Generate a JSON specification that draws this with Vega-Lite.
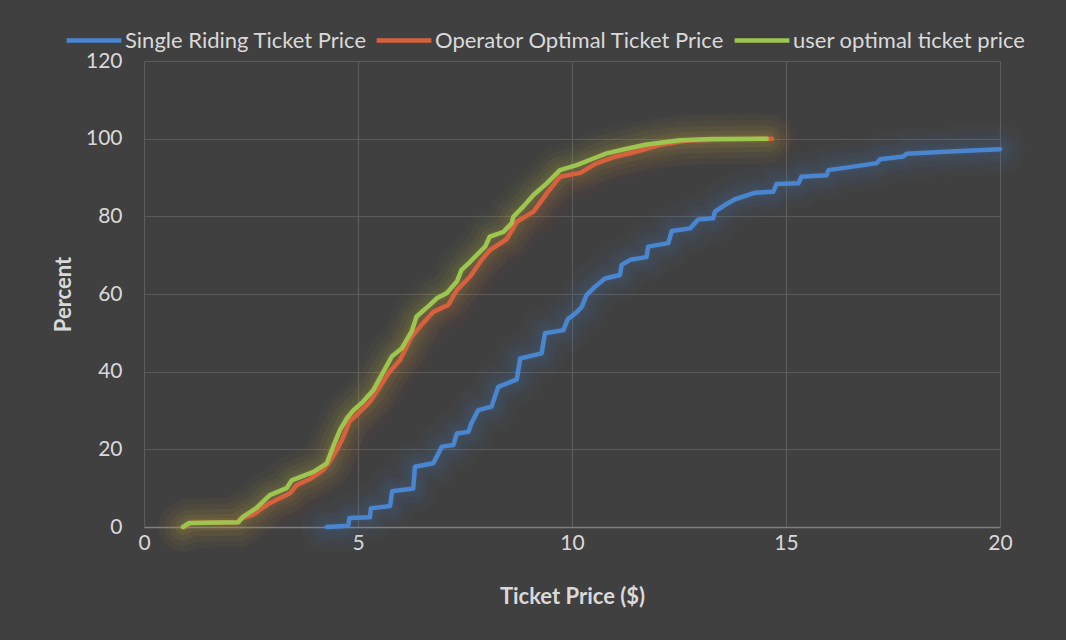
{
  "$schema": "https://vega.github.io/schema/vega-lite/v6.json",
  "width": 856,
  "height": 466,
  "autosize": {"type": "none"},
  "padding": {"left": 144, "top": 61, "right": 66, "bottom": 113},
  "background": "#404040",
  "config": {
    "view": {"stroke": null},
    "font": "Lato",
    "axis": {
      "labelFont": "Lato",
      "titleFont": "Lato",
      "labelColor": "#d9d9d9",
      "titleColor": "#d9d9d9",
      "labelFontSize": 21,
      "titleFontSize": 22,
      "titleFontWeight": "bold",
      "gridColor": "#5b5b5b",
      "gridWidth": 1.2,
      "ticks": false,
      "labelFlush": false
    }
  },
  "data": {
    "values": [
      {"series": "Single Riding Ticket Price", "price": 4.27, "pct": 0},
      {"series": "Single Riding Ticket Price", "price": 4.77, "pct": 0.3},
      {"series": "Single Riding Ticket Price", "price": 4.8, "pct": 2.3},
      {"series": "Single Riding Ticket Price", "price": 5.28, "pct": 2.5},
      {"series": "Single Riding Ticket Price", "price": 5.3, "pct": 4.8},
      {"series": "Single Riding Ticket Price", "price": 5.75, "pct": 5.4},
      {"series": "Single Riding Ticket Price", "price": 5.8, "pct": 9.2},
      {"series": "Single Riding Ticket Price", "price": 6.29, "pct": 9.9},
      {"series": "Single Riding Ticket Price", "price": 6.33, "pct": 15.5},
      {"series": "Single Riding Ticket Price", "price": 6.76, "pct": 16.4},
      {"series": "Single Riding Ticket Price", "price": 6.96, "pct": 20.7},
      {"series": "Single Riding Ticket Price", "price": 7.23, "pct": 21.1},
      {"series": "Single Riding Ticket Price", "price": 7.31, "pct": 24.1},
      {"series": "Single Riding Ticket Price", "price": 7.58, "pct": 24.5},
      {"series": "Single Riding Ticket Price", "price": 7.65, "pct": 26.7},
      {"series": "Single Riding Ticket Price", "price": 7.81, "pct": 30.1},
      {"series": "Single Riding Ticket Price", "price": 8.12, "pct": 31},
      {"series": "Single Riding Ticket Price", "price": 8.28, "pct": 36.1},
      {"series": "Single Riding Ticket Price", "price": 8.71, "pct": 38},
      {"series": "Single Riding Ticket Price", "price": 8.79, "pct": 43.4},
      {"series": "Single Riding Ticket Price", "price": 9.29, "pct": 44.7},
      {"series": "Single Riding Ticket Price", "price": 9.37, "pct": 49.9},
      {"series": "Single Riding Ticket Price", "price": 9.8, "pct": 50.7},
      {"series": "Single Riding Ticket Price", "price": 9.9, "pct": 53.5},
      {"series": "Single Riding Ticket Price", "price": 10.1, "pct": 55.2},
      {"series": "Single Riding Ticket Price", "price": 10.23, "pct": 56.7},
      {"series": "Single Riding Ticket Price", "price": 10.34, "pct": 59.7},
      {"series": "Single Riding Ticket Price", "price": 10.54, "pct": 61.9},
      {"series": "Single Riding Ticket Price", "price": 10.77, "pct": 64},
      {"series": "Single Riding Ticket Price", "price": 11.12, "pct": 64.9},
      {"series": "Single Riding Ticket Price", "price": 11.16, "pct": 67.5},
      {"series": "Single Riding Ticket Price", "price": 11.36, "pct": 68.8},
      {"series": "Single Riding Ticket Price", "price": 11.74, "pct": 69.5},
      {"series": "Single Riding Ticket Price", "price": 11.78, "pct": 72.2},
      {"series": "Single Riding Ticket Price", "price": 12.25, "pct": 73.1},
      {"series": "Single Riding Ticket Price", "price": 12.33, "pct": 76.2},
      {"series": "Single Riding Ticket Price", "price": 12.76, "pct": 76.9},
      {"series": "Single Riding Ticket Price", "price": 12.95, "pct": 79.2},
      {"series": "Single Riding Ticket Price", "price": 13.3, "pct": 79.5},
      {"series": "Single Riding Ticket Price", "price": 13.34, "pct": 81.2},
      {"series": "Single Riding Ticket Price", "price": 13.57, "pct": 82.9},
      {"series": "Single Riding Ticket Price", "price": 13.81, "pct": 84.4},
      {"series": "Single Riding Ticket Price", "price": 14.28, "pct": 86.1},
      {"series": "Single Riding Ticket Price", "price": 14.7, "pct": 86.3},
      {"series": "Single Riding Ticket Price", "price": 14.78, "pct": 88.3},
      {"series": "Single Riding Ticket Price", "price": 15.29, "pct": 88.5},
      {"series": "Single Riding Ticket Price", "price": 15.36, "pct": 90.2},
      {"series": "Single Riding Ticket Price", "price": 15.95, "pct": 90.6},
      {"series": "Single Riding Ticket Price", "price": 15.99, "pct": 91.9},
      {"series": "Single Riding Ticket Price", "price": 16.57, "pct": 92.8},
      {"series": "Single Riding Ticket Price", "price": 17.12, "pct": 93.7},
      {"series": "Single Riding Ticket Price", "price": 17.2, "pct": 94.7},
      {"series": "Single Riding Ticket Price", "price": 17.74, "pct": 95.4},
      {"series": "Single Riding Ticket Price", "price": 17.82, "pct": 96.1},
      {"series": "Single Riding Ticket Price", "price": 18.83, "pct": 96.7},
      {"series": "Single Riding Ticket Price", "price": 20, "pct": 97.3},
      {"series": "Operator Optimal Ticket Price", "price": 0.93, "pct": 0},
      {"series": "Operator Optimal Ticket Price", "price": 1.1, "pct": 1},
      {"series": "Operator Optimal Ticket Price", "price": 2.2, "pct": 1.2},
      {"series": "Operator Optimal Ticket Price", "price": 2.24, "pct": 2},
      {"series": "Operator Optimal Ticket Price", "price": 2.55, "pct": 3.2},
      {"series": "Operator Optimal Ticket Price", "price": 2.87, "pct": 5.7},
      {"series": "Operator Optimal Ticket Price", "price": 3.1, "pct": 7},
      {"series": "Operator Optimal Ticket Price", "price": 3.41, "pct": 8.7},
      {"series": "Operator Optimal Ticket Price", "price": 3.57, "pct": 10.8},
      {"series": "Operator Optimal Ticket Price", "price": 3.9, "pct": 12.5},
      {"series": "Operator Optimal Ticket Price", "price": 4.19, "pct": 14.7},
      {"series": "Operator Optimal Ticket Price", "price": 4.35, "pct": 17},
      {"series": "Operator Optimal Ticket Price", "price": 4.5, "pct": 19.8},
      {"series": "Operator Optimal Ticket Price", "price": 4.65, "pct": 23},
      {"series": "Operator Optimal Ticket Price", "price": 4.81, "pct": 27.5},
      {"series": "Operator Optimal Ticket Price", "price": 4.89, "pct": 28},
      {"series": "Operator Optimal Ticket Price", "price": 5.2, "pct": 31.4},
      {"series": "Operator Optimal Ticket Price", "price": 5.28, "pct": 32.3},
      {"series": "Operator Optimal Ticket Price", "price": 5.51, "pct": 36.1},
      {"series": "Operator Optimal Ticket Price", "price": 5.71, "pct": 39.6},
      {"series": "Operator Optimal Ticket Price", "price": 5.98, "pct": 43},
      {"series": "Operator Optimal Ticket Price", "price": 6.25, "pct": 49},
      {"series": "Operator Optimal Ticket Price", "price": 6.45, "pct": 51.6},
      {"series": "Operator Optimal Ticket Price", "price": 6.76, "pct": 55.4},
      {"series": "Operator Optimal Ticket Price", "price": 7.11, "pct": 57.2},
      {"series": "Operator Optimal Ticket Price", "price": 7.31, "pct": 61},
      {"series": "Operator Optimal Ticket Price", "price": 7.62, "pct": 64.5},
      {"series": "Operator Optimal Ticket Price", "price": 7.89, "pct": 68.8},
      {"series": "Operator Optimal Ticket Price", "price": 8.08, "pct": 71.3},
      {"series": "Operator Optimal Ticket Price", "price": 8.47, "pct": 74.1},
      {"series": "Operator Optimal Ticket Price", "price": 8.71, "pct": 78.6},
      {"series": "Operator Optimal Ticket Price", "price": 9.1, "pct": 81.2},
      {"series": "Operator Optimal Ticket Price", "price": 9.41, "pct": 85.9},
      {"series": "Operator Optimal Ticket Price", "price": 9.72, "pct": 90.2},
      {"series": "Operator Optimal Ticket Price", "price": 10.19, "pct": 91.2},
      {"series": "Operator Optimal Ticket Price", "price": 10.58, "pct": 93.7},
      {"series": "Operator Optimal Ticket Price", "price": 10.96, "pct": 95.2},
      {"series": "Operator Optimal Ticket Price", "price": 11.51, "pct": 96.7},
      {"series": "Operator Optimal Ticket Price", "price": 12.06, "pct": 98.4},
      {"series": "Operator Optimal Ticket Price", "price": 12.68, "pct": 99.5},
      {"series": "Operator Optimal Ticket Price", "price": 13.5, "pct": 99.8},
      {"series": "Operator Optimal Ticket Price", "price": 14.67, "pct": 100},
      {"series": "user optimal ticket price", "price": 0.91, "pct": 0},
      {"series": "user optimal ticket price", "price": 1.05, "pct": 1},
      {"series": "user optimal ticket price", "price": 2.2, "pct": 1.2},
      {"series": "user optimal ticket price", "price": 2.31, "pct": 2.6},
      {"series": "user optimal ticket price", "price": 2.63, "pct": 4.9},
      {"series": "user optimal ticket price", "price": 2.94, "pct": 8.2},
      {"series": "user optimal ticket price", "price": 3.33, "pct": 10},
      {"series": "user optimal ticket price", "price": 3.45, "pct": 12},
      {"series": "user optimal ticket price", "price": 3.96, "pct": 14.2},
      {"series": "user optimal ticket price", "price": 4.27, "pct": 16.4},
      {"series": "user optimal ticket price", "price": 4.42, "pct": 20.7},
      {"series": "user optimal ticket price", "price": 4.58, "pct": 25},
      {"series": "user optimal ticket price", "price": 4.74, "pct": 28},
      {"series": "user optimal ticket price", "price": 4.89, "pct": 30},
      {"series": "user optimal ticket price", "price": 5.12, "pct": 32.3},
      {"series": "user optimal ticket price", "price": 5.36, "pct": 35.3},
      {"series": "user optimal ticket price", "price": 5.55, "pct": 39.1},
      {"series": "user optimal ticket price", "price": 5.79, "pct": 43.9},
      {"series": "user optimal ticket price", "price": 6.02, "pct": 46},
      {"series": "user optimal ticket price", "price": 6.25, "pct": 50.3},
      {"series": "user optimal ticket price", "price": 6.37, "pct": 54.2},
      {"series": "user optimal ticket price", "price": 6.68, "pct": 57.2},
      {"series": "user optimal ticket price", "price": 6.84, "pct": 58.9},
      {"series": "user optimal ticket price", "price": 7.07, "pct": 60.2},
      {"series": "user optimal ticket price", "price": 7.31, "pct": 63.2},
      {"series": "user optimal ticket price", "price": 7.42, "pct": 66.2},
      {"series": "user optimal ticket price", "price": 7.62, "pct": 68.3},
      {"series": "user optimal ticket price", "price": 7.97, "pct": 72.2},
      {"series": "user optimal ticket price", "price": 8.08, "pct": 74.8},
      {"series": "user optimal ticket price", "price": 8.4, "pct": 76},
      {"series": "user optimal ticket price", "price": 8.59, "pct": 78.2},
      {"series": "user optimal ticket price", "price": 8.63, "pct": 79.9},
      {"series": "user optimal ticket price", "price": 8.86, "pct": 82.5},
      {"series": "user optimal ticket price", "price": 9.1, "pct": 85.5},
      {"series": "user optimal ticket price", "price": 9.41, "pct": 88.5},
      {"series": "user optimal ticket price", "price": 9.72, "pct": 91.9},
      {"series": "user optimal ticket price", "price": 10.11, "pct": 93.2},
      {"series": "user optimal ticket price", "price": 10.5, "pct": 94.9},
      {"series": "user optimal ticket price", "price": 10.81, "pct": 96.2},
      {"series": "user optimal ticket price", "price": 11.2, "pct": 97.2},
      {"series": "user optimal ticket price", "price": 11.74, "pct": 98.5},
      {"series": "user optimal ticket price", "price": 12.52, "pct": 99.6},
      {"series": "user optimal ticket price", "price": 13.3, "pct": 99.9},
      {"series": "user optimal ticket price", "price": 14.55, "pct": 100}
    ]
  },
  "encoding": {
    "x": {
      "field": "price", "type": "quantitative",
      "scale": {"domain": [0, 20], "nice": false, "zero": false},
      "axis": {
        "values": [0, 5, 10, 15, 20],
        "title": "Ticket Price ($)",
        "grid": true,
        "domainColor": "#7f7f7f",
        "domainWidth": 1.5,
        "labelPadding": 5,
        "titlePadding": 33
      }
    },
    "y": {
      "field": "pct", "type": "quantitative",
      "scale": {"domain": [0, 120], "nice": false},
      "axis": {
        "values": [0, 20, 40, 60, 80, 100, 120],
        "title": "Percent",
        "grid": true,
        "domain": false,
        "labelPadding": 22,
        "titlePadding": 10
      }
    },
    "color": {
      "field": "series", "type": "nominal",
      "sort": ["Single Riding Ticket Price", "Operator Optimal Ticket Price", "user optimal ticket price"],
      "scale": {
        "domain": ["Single Riding Ticket Price", "Operator Optimal Ticket Price", "user optimal ticket price"],
        "range": ["#4a86d0", "#d8603c", "#9dc650"]
      },
      "legend": {
        "title": null,
        "orient": "none",
        "legendX": -80,
        "legendY": -50.5,
        "direction": "horizontal",
        "symbolType": "stroke",
        "symbolSize": 3000,
        "symbolStrokeWidth": 4.5,
        "symbolOpacity": 1,
        "labelFont": "Lato",
        "labelFontSize": 22,
        "labelColor": "#d9d9d9",
        "labelOffset": 1,
        "columnPadding": 0,
        "labelLimit": 0
      }
    }
  },
  "layer": [
    {"mark": {"type": "line", "strokeWidth": 50, "opacity": 0.035, "strokeCap": "round", "strokeJoin": "round"}},
    {"mark": {"type": "line", "strokeWidth": 38, "opacity": 0.04, "strokeCap": "round", "strokeJoin": "round"}},
    {"mark": {"type": "line", "strokeWidth": 27, "opacity": 0.05, "strokeCap": "round", "strokeJoin": "round"}},
    {"mark": {"type": "line", "strokeWidth": 17, "opacity": 0.06, "strokeCap": "round", "strokeJoin": "round"}},
    {"mark": {"type": "line", "strokeWidth": 9, "opacity": 0.07, "strokeCap": "round", "strokeJoin": "round"}},
    {"mark": {"type": "line", "strokeWidth": 4.5, "strokeCap": "round", "strokeJoin": "round"}}
  ]
}
